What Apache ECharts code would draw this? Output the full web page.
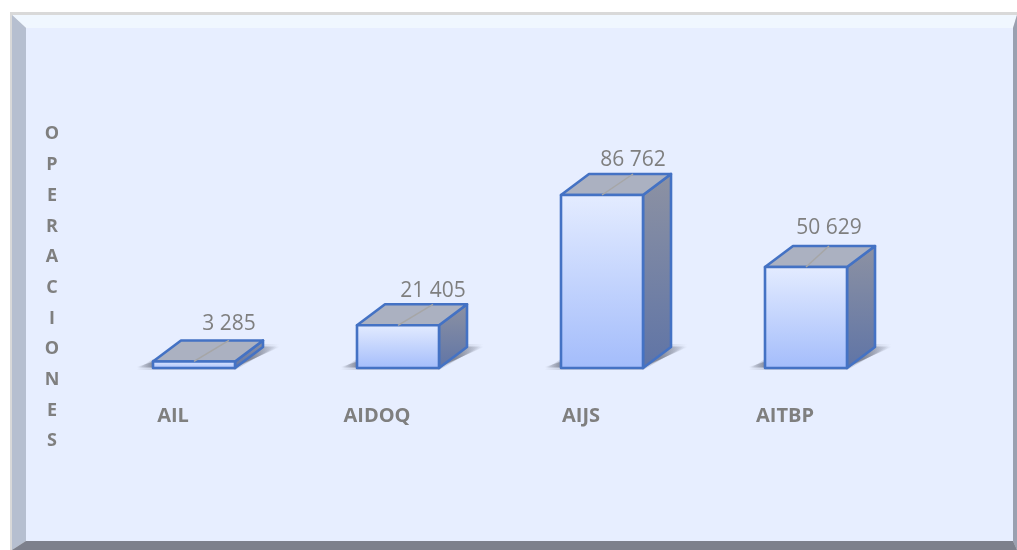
<!DOCTYPE html>
<html>
<head>
<meta charset="utf-8">
<style>html,body{margin:0;padding:0;background:#fff}#c{width:1017px;height:550px}</style>
<script src="https://cdn.jsdelivr.net/npm/echarts@6/dist/echarts.min.js"></script>
</head>
<body>
<div id="c"></div>
<script>
const categories = ['AIL', 'AIDOQ', 'AIJS', 'AITBP'];
const values = [3285, 21405, 86762, 50629];
const valueLabels = ['3 285', '21 405', '86 762', '50 629'];
const leaderShift = [35, 35, 31, 23];
const labelLift = [16, 13, 14, 18];
const axisTitle = 'OPERACIONES';

const DX = 28, DY = -21, W = 82;
const chart = echarts.init(document.getElementById('c'), null, {renderer: 'canvas'});
const vGrad = (a, b) => new echarts.graphic.LinearGradient(0, 0, 0, 1, [{offset: 0, color: a}, {offset: 1, color: b}]);
const shadowGrad = a => new echarts.graphic.LinearGradient(0, 0, 1, 0, [
  {offset: 0, color: 'rgba(60,64,80,0)'},
  {offset: 0.13, color: 'rgba(60,64,80,' + a + ')'},
  {offset: 0.8, color: 'rgba(60,64,80,' + a + ')'},
  {offset: 1, color: 'rgba(60,64,80,0)'}
]);
const poly = (points, style, z2) => ({type: 'polygon', shape: {points}, style, z2: z2 || 1});

function renderBar(params, api) {
  const i = api.value(0);
  const base = api.coord([i, 0]);
  const top = api.coord([i, api.value(1)]);
  const xl = base[0] - W / 2, xr = base[0] + W / 2, yb = base[1], yt = top[1];
  const blue = '#4472c4';
  const edge = {stroke: blue, lineWidth: 2.6, lineJoin: 'round'};
  const cx = base[0];
  const ex = cx + leaderShift[i];
  const shadow = (o, a) => poly([
    [xl - 17, yb + 2 - o], [xr, yb + 2 - o], [xr + DX + 17, yb + DY - 3 + o],
    [xr + DX, yb + DY - 3 + o], [xl, yb - 9 + o]
  ], {fill: shadowGrad(a)}, 0);
  return {
    type: 'group',
    children: [
      shadow(0, 0.18),
      shadow(2, 0.28),
      shadow(3, 0.3),
      poly([[xr, yt], [xr + DX, yt + DY], [xr + DX, yb + DY], [xr, yb]],
        Object.assign({fill: vGrad('#8d92a3', '#5f74a6')}, edge), 1),
      poly([[xl, yt], [xl + DX, yt + DY], [xr + DX, yt + DY], [xr, yt]],
        Object.assign({fill: '#abb1c1'}, edge), 1),
      poly([[xl, yt], [xr, yt], [xr, yb], [xl, yb]],
        Object.assign({fill: vGrad('#e4ecff', '#a3bcfb')}, edge), 2),
      {type: 'line', shape: {x1: cx, y1: yt, x2: ex, y2: yt + DY},
        style: {stroke: '#a6a6a6', lineWidth: 1.5}, z2: 3},
      {type: 'text', x: ex, y: yt + DY - labelLift[i],
        style: {text: valueLabels[i], fill: '#7f7f7f', font: '21px "Open Sans"', align: 'center', verticalAlign: 'middle'}, z2: 4}
    ]
  };
}

const FW = 1017, FH = 550;
const frame = [
  poly([[10, 12], [FW, 12], [FW, FH], [10, FH]], {fill: '#d9d9d9'}),
  poly([[12, 15], [FW, 15], [1013, 28], [26, 28]], {fill: '#f0f7ff'}),
  poly([[12, 15], [26, 28], [26, 541], [12, FH]], {fill: '#b6bfd0'}),
  poly([[FW, 15], [FW, FH], [1013, 541], [1013, 28]], {fill: '#9aa0b0'}),
  poly([[12, FH], [26, 541], [1013, 541], [FW, FH]], {fill: '#7d808c'}),
  poly([[26, 28], [1013, 28], [1013, 541], [26, 541]], {fill: '#e7eeff'})
];

chart.setOption({
  animation: false,
  textStyle: {fontFamily: '"Open Sans"'},
  title: {
    text: axisTitle.split('').join('\n'),
    left: 52,
    top: 119,
    textAlign: 'center',
    padding: 0,
    textStyle: {color: '#7f7f7f', fontWeight: 'bold', fontSize: 18, lineHeight: 30.7, fontFamily: '"Open Sans"'}
  },
  graphic: {elements: frame.map(e => Object.assign(e, {silent: true, z: -10}))},
  grid: {left: 92, right: 109, top: 168.6, bottom: 182, containLabel: false},
  xAxis: {
    type: 'category',
    data: categories,
    axisLine: {show: false},
    axisTick: {show: false},
    splitLine: {show: false},
    axisLabel: {
      color: '#7f7f7f', fontWeight: 'bold', fontSize: 20, fontFamily: '"Open Sans"',
      margin: 38, padding: [0, 42, 0, 0], interval: 0
    }
  },
  yAxis: {
    type: 'value',
    min: 0,
    max: 100000,
    axisLine: {show: false},
    axisTick: {show: false},
    axisLabel: {show: false},
    splitLine: {show: false}
  },
  series: [{
    type: 'custom',
    renderItem: renderBar,
    data: categories.map((c, i) => [i, values[i]]),
    encode: {x: 0, y: 1},
    clip: false
  }]
});
</script>
</body>
</html>
